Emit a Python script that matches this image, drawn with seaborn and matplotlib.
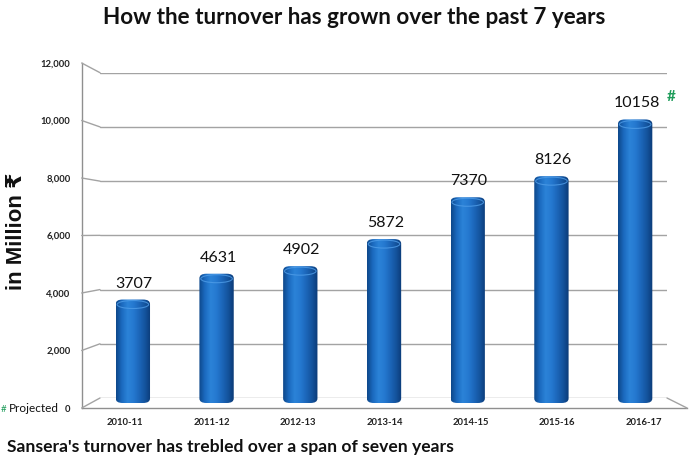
import numpy as np
import pandas as pd
import matplotlib
matplotlib.use("Agg")
import matplotlib.pyplot as plt
import seaborn as sns
from matplotlib.patches import FancyBboxPatch, Ellipse
from matplotlib.colors import LinearSegmentedColormap
from matplotlib.lines import Line2D

# ---- data ----
years = ["2010-11", "2011-12", "2012-13", "2013-14", "2014-15", "2015-16", "2016-17"]
turnover = [3707, 4631, 4902, 5872, 7370, 8126, 10158]
ytick_values = [0, 2000, 4000, 6000, 8000, 10000, 12000]
ytick_labels = ["0", "2,000", "4,000", "6,000", "8,000", "10,000", "12,000"]
title = "How the turnover has grown over the past 7 years"
subtitle = "Sansera's turnover has trebled over a span of seven years"
ylabel = "in Million \u20b9"
projected_mark = "#"
projected_note = "Projected"

sns.set_style("white")
plt.rcParams['font.family'] = ['Lato', 'DejaVu Sans']

W, H = 692, 459
fig = plt.figure(figsize=(W / 100, H / 100), dpi=100)


def rect(l, t, r, b):
    return [l / W, 1 - b / H, (r - l) / W, (b - t) / H]


GRID = '#a3a3a3'
ax_back = fig.add_axes(rect(100, 72.7, 667, 398))
ax_front = fig.add_axes(rect(81.7, 63, 687, 408))
ax_bar = fig.add_axes(rect(91, 68, 677, 403))

# back wall gridlines
ax_back.set_xlim(0, 1)
ax_back.set_ylim(0, 12000)
for v in ytick_values:
    ax_back.axhline(v, color=GRID, lw=1)
ax_back.axis('off')

# front axis frame with tick labels
ax_front.set_facecolor('none')
ax_front.set_xlim(-0.5, len(years) - 0.5)
ax_front.set_ylim(0, 12000)
for s in ['top', 'right']:
    ax_front.spines[s].set_visible(False)
for s in ['left', 'bottom']:
    ax_front.spines[s].set_color('#8f8f8f')
    ax_front.spines[s].set_linewidth(1)
ax_front.set_yticks(ytick_values)
ax_front.set_yticklabels(ytick_labels, fontsize=6.8, fontweight='bold', color='#222222')
ax_front.set_xticks(range(len(years)))
ax_front.set_xticklabels(years, fontsize=6.8, fontweight='bold', color='#222222')
ax_front.set_xticks(np.arange(-0.5, len(years)), minor=True)
ax_front.tick_params(axis='y', length=4, color='#8f8f8f', pad=4)
ax_front.tick_params(axis='x', which='major', length=0, pad=7)
ax_front.tick_params(axis='x', which='minor', length=4, color='#8f8f8f', direction='out')

# perspective connectors
inv = fig.transFigure.inverted()
for v in ytick_values:
    p1 = inv.transform(ax_front.transData.transform((-0.5, v)))
    p2 = inv.transform(ax_back.transData.transform((0, v)))
    fig.add_artist(Line2D([p1[0], p2[0]], [p1[1], p2[1]], transform=fig.transFigure,
                          color=GRID, lw=1))
p1 = inv.transform(ax_front.transData.transform((len(years) - 0.5, 0)))
p2 = inv.transform(ax_back.transData.transform((1, 0)))
fig.add_artist(Line2D([p1[0], p2[0]], [p1[1], p2[1]], transform=fig.transFigure,
                      color=GRID, lw=1))

# bars
df = pd.DataFrame({"year": years, "turnover": turnover})
sns.barplot(data=df, x="year", y="turnover", ax=ax_bar, color='#1b66bb', width=0.41,
            saturation=1)
ax_bar.set_facecolor('none')
ax_bar.set_xlim(-0.5, len(years) - 0.5)
ax_bar.set_ylim(0, 12000)
ax_bar.axis('off')

cmap = LinearSegmentedColormap.from_list(
    'cyl', ['#0d4789', '#1b6abf', '#2b83d8', '#2579d0', '#1c66b9', '#14539d', '#0b3a76'])
grad = np.linspace(0, 1, 256).reshape(1, -1)
px_x = 1.0 / 83.7          # data units per pixel (x)
px_y = 12000 / 335.0       # data units per pixel (y)
for patch in list(ax_bar.patches):
    x0, w, h = patch.get_x(), patch.get_width(), patch.get_height()
    r = 7 * px_x
    fb = FancyBboxPatch((x0, 0), w, h, boxstyle=f"round,pad=0,rounding_size={r}",
                        mutation_aspect=(4.5 * px_y) / r, transform=ax_bar.transData,
                        facecolor='none', edgecolor='none')
    ax_bar.add_patch(fb)
    im = ax_bar.imshow(grad, extent=(x0, x0 + w, 0, h), aspect='auto', cmap=cmap,
                       interpolation='bilinear', zorder=3)
    im.set_clip_path(fb)
    patch.set_visible(False)
    cap = Ellipse((x0 + w / 2, h - 5 * px_y), w * 0.92, 8 * px_y, facecolor='none',
                  edgecolor='#4f9de8', lw=0.8, alpha=0.8, zorder=4)
    ax_bar.add_patch(cap)
ax_bar.set_xlim(-0.5, len(years) - 0.5)
ax_bar.set_ylim(0, 12000)

for i, v in enumerate(turnover):
    ax_bar.annotate(str(v), (i, v), xytext=(1, 11.5), textcoords='offset points',
                    ha='center', va='center', fontsize=11.5, color='#111111', zorder=5)
ax_bar.annotate(projected_mark, (len(turnover) - 1, turnover[-1]), xytext=(26, 16),
                textcoords='offset points', ha='center', va='center', fontsize=11,
                fontweight='bold', color='#1e9c5a', annotation_clip=False)

# texts
fig.text(354 / W, 1 - 18 / H, title, ha='center', va='center', fontsize=16.2,
         fontweight='bold', color='#111111')
fig.text(7 / W, 1 - 447 / H, subtitle, ha='left', va='center', fontsize=12.6,
         fontweight='bold', color='#111111')
fig.text(17 / W, 1 - 231 / H, ylabel, ha='center', va='center', rotation=90,
         fontsize=16, fontweight='bold', color='#111111',
         family=['Liberation Sans', 'DejaVu Sans', 'Noto Sans'])
fig.text(1 / W, 1 - 409 / H, projected_mark, ha='left', va='center', fontsize=7,
         color='#1e9c5a')
fig.text(9 / W, 1 - 409 / H, projected_note, ha='left', va='center', fontsize=8.5,
         color='#111111')

fig.savefig("out.png", dpi=100, facecolor='white')
